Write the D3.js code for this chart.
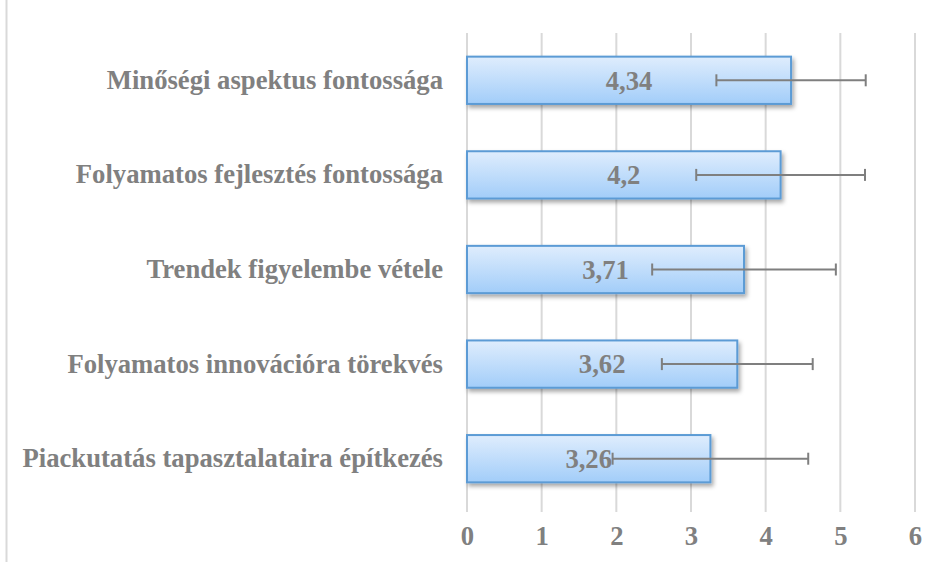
<!DOCTYPE html>
<html>
<head>
<meta charset="utf-8">
<script src="https://cdn.jsdelivr.net/npm/d3@7"></script>
<style>
  body { margin: 0; background: #fff; }
  svg { display: block; }
  svg text { font-family: "Liberation Serif", "Times New Roman", serif; font-weight: bold; }
</style>
</head>
<body>
<svg width="943" height="565"></svg>
<script>
var categories = [
  "Minőségi aspektus fontossága",
  "Folyamatos fejlesztés fontossága",
  "Trendek figyelembe vétele",
  "Folyamatos innovációra törekvés",
  "Piackutatás tapasztalataira építkezés"
];
var means = [4.34, 4.2, 3.71, 3.62, 3.26];
var labels = ["4,34", "4,2", "3,71", "3,62", "3,26"];
var sds = [1.0, 1.13, 1.23, 1.01, 1.31];
var xTicks = [0, 1, 2, 3, 4, 5, 6];

var data = categories.map(function(c, i) {
  return { cat: c, mean: means[i], label: labels[i], sd: sds[i] };
});

var svg = d3.select("svg"),
    width = +svg.attr("width"),
    height = +svg.attr("height"),
    margin = {top: 33, right: 28, bottom: 59, left: 467};

var grey = "#808080";
var fontSize = "26.67px";   // 20pt

var x = d3.scaleLinear()
    .domain([0, 6])
    .range([margin.left, width - margin.right]);

var y = d3.scaleBand()
    .domain(categories)
    .range([margin.top, height - margin.bottom])
    .paddingInner(0.5)
    .paddingOuter(0.25);

// gradient + shadow
var defs = svg.append("defs");
var grad = defs.append("linearGradient")
    .attr("id", "barGrad")
    .attr("x1", 0).attr("y1", 0).attr("x2", 0).attr("y2", 1);
grad.append("stop").attr("offset", "0%").attr("stop-color", "#dfedfd");
grad.append("stop").attr("offset", "100%").attr("stop-color", "#a2cdf9");

var shadow = defs.append("filter")
    .attr("id", "shadow")
    .attr("x", "-10%").attr("y", "-20%")
    .attr("width", "130%").attr("height", "160%");
shadow.append("feDropShadow")
    .attr("dx", 2).attr("dy", 3)
    .attr("stdDeviation", 2)
    .attr("flood-color", "#000")
    .attr("flood-opacity", 0.35);

// left frame edge
svg.append("line")
    .attr("x1", 6.5).attr("x2", 6.5)
    .attr("y1", 0).attr("y2", 562)
    .attr("stroke", "#d9d9d9")
    .attr("stroke-width", 2);

// gridlines
svg.append("g")
  .selectAll("line")
  .data(xTicks)
  .enter().append("line")
    .attr("x1", function(d) { return x(d); })
    .attr("x2", function(d) { return x(d); })
    .attr("y1", margin.top)
    .attr("y2", height - margin.bottom + 6)
    .attr("stroke", "#d9d9d9")
    .attr("stroke-width", 2);

// x axis
var xAxis = svg.append("g")
    .attr("transform", "translate(0," + (height - margin.bottom) + ")")
    .call(d3.axisBottom(x).tickValues(xTicks).tickSize(0).tickPadding(20).tickFormat(d3.format("d")));
xAxis.select(".domain").remove();
xAxis.selectAll("text")
    .attr("fill", grey)
    .style("font-size", fontSize);

// y axis
var yAxis = svg.append("g")
    .attr("transform", "translate(" + margin.left + ",0)")
    .call(d3.axisLeft(y).tickSize(0).tickPadding(24));
yAxis.select(".domain").remove();
yAxis.selectAll("text")
    .attr("fill", grey)
    .style("font-size", fontSize);

// bars
svg.append("g")
  .selectAll("rect")
  .data(data)
  .enter().append("rect")
    .attr("x", x(0))
    .attr("y", function(d) { return y(d.cat); })
    .attr("width", function(d) { return x(d.mean) - x(0); })
    .attr("height", y.bandwidth())
    .attr("fill", "url(#barGrad)")
    .attr("stroke", "#5b9bd5")
    .attr("stroke-width", 2)
    .attr("filter", "url(#shadow)");

// value labels
svg.append("g")
  .selectAll("text")
  .data(data)
  .enter().append("text")
    .attr("x", function(d) { return (x(0) + x(d.mean)) / 2; })
    .attr("y", function(d) { return y(d.cat) + y.bandwidth() / 2; })
    .attr("dy", "0.35em")
    .attr("text-anchor", "middle")
    .attr("fill", grey)
    .style("font-size", fontSize)
    .text(function(d) { return d.label; });

// error bars
var err = svg.append("g")
    .attr("stroke", "#7f7f7f")
    .attr("stroke-width", 2)
  .selectAll("g")
  .data(data)
  .enter().append("g");

err.append("line")
    .attr("x1", function(d) { return x(d.mean - d.sd); })
    .attr("x2", function(d) { return x(d.mean + d.sd); })
    .attr("y1", function(d) { return y(d.cat) + y.bandwidth() / 2; })
    .attr("y2", function(d) { return y(d.cat) + y.bandwidth() / 2; });

err.selectAll(".cap")
  .data(function(d) { return [[d.mean - d.sd, d], [d.mean + d.sd, d]]; })
  .enter().append("line")
    .attr("class", "cap")
    .attr("x1", function(p) { return x(p[0]); })
    .attr("x2", function(p) { return x(p[0]); })
    .attr("y1", function(p) { return y(p[1].cat) + y.bandwidth() / 2 - 6; })
    .attr("y2", function(p) { return y(p[1].cat) + y.bandwidth() / 2 + 6; });
</script>
</body>
</html>
